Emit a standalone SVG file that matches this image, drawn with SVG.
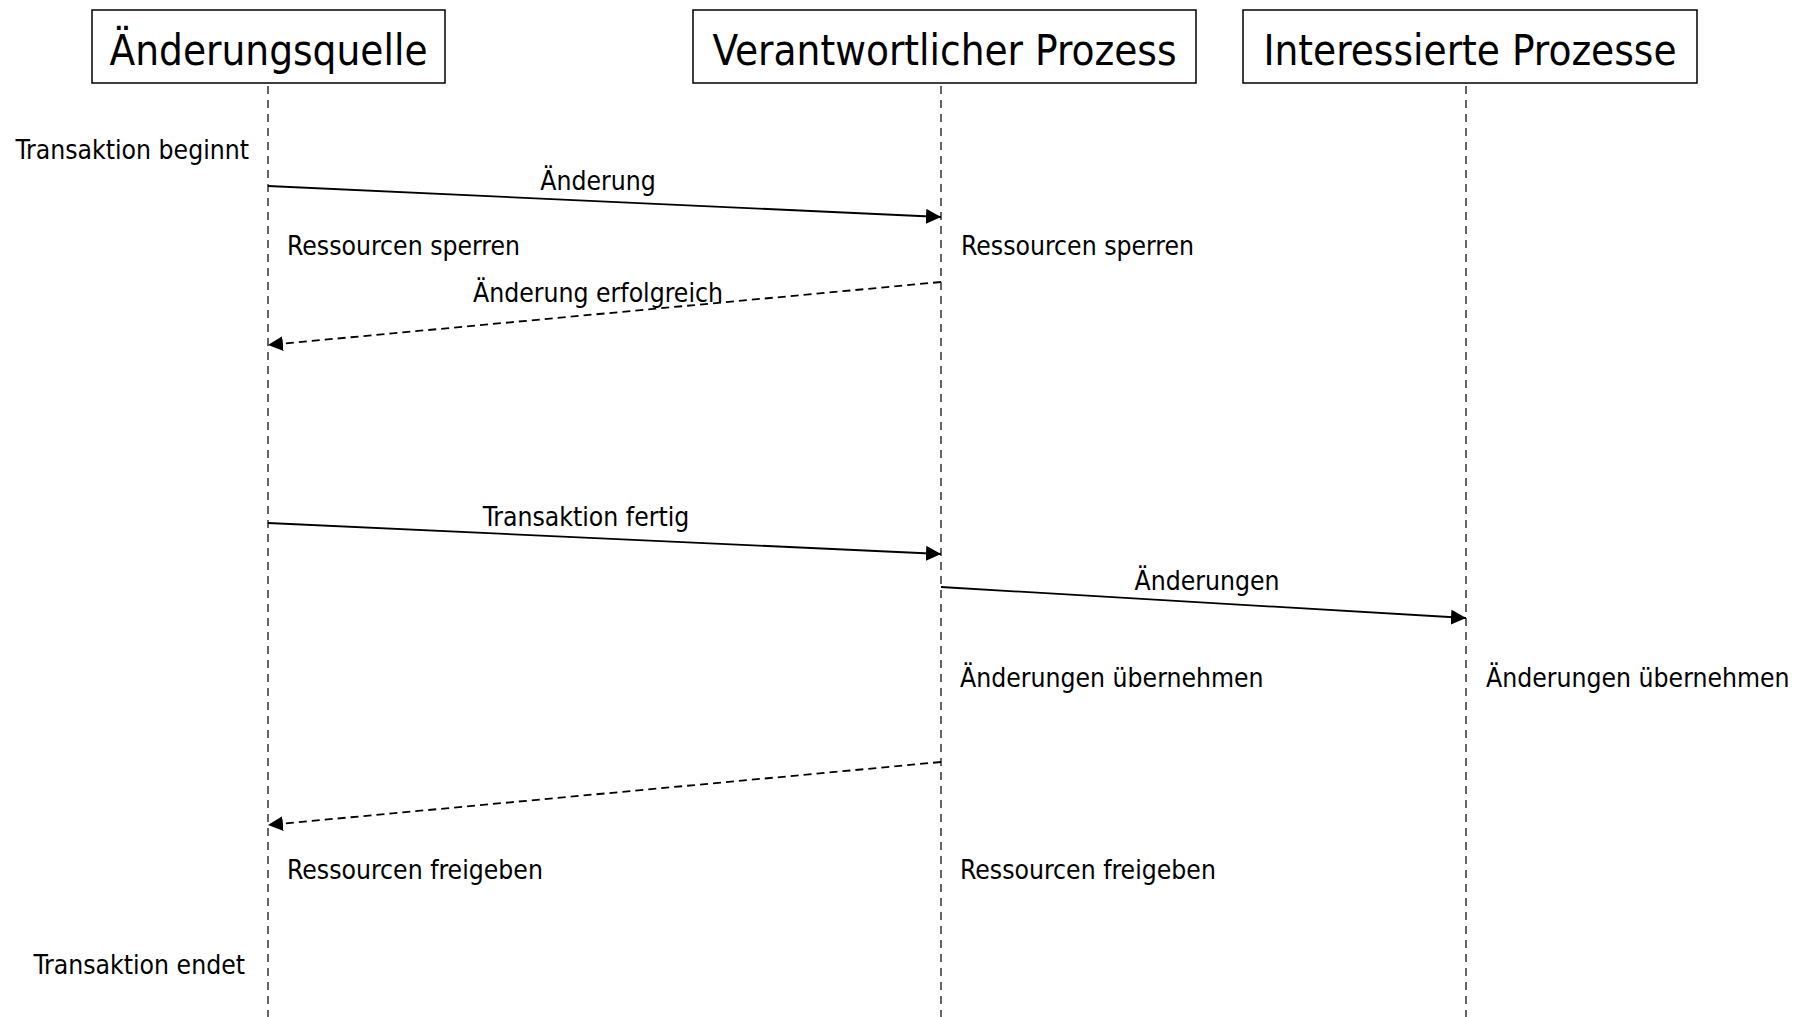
<svg xmlns="http://www.w3.org/2000/svg" width="1802" height="1017" viewBox="0 0 1802 1017">
  <style>
    text { font-family: "DejaVu Sans Condensed", "DejaVu Sans", sans-serif; fill: #000; }
    .title { font-size: 41.8px; text-anchor: middle; }
    .lbl { font-size: 26.3px; }
    .mid { text-anchor: middle; }
    .end { text-anchor: end; }
    .box { fill: #fff; stroke: #000; stroke-width: 1.5; }
    .life { stroke: #000; stroke-width: 1.2; stroke-dasharray: 8 6; fill: none; }
    .msg { stroke: #000; stroke-width: 1.8; fill: none; marker-end: url(#head); }
    .ret { stroke: #000; stroke-width: 1.8; fill: none; stroke-dasharray: 8 5; marker-end: url(#head); }
  </style>
  <defs>
    <marker id="head" viewBox="0 0 15 15" refX="15" refY="7.5" markerWidth="15" markerHeight="15" markerUnits="userSpaceOnUse" orient="auto">
      <path d="M0,0 L15,7.5 L0,15 Z" fill="#000"/>
    </marker>
  </defs>

  <!-- lifelines -->
  <g id="lifelines">
    <line class="life" x1="268" y1="86" x2="268" y2="1017"/>
    <line class="life" x1="941" y1="86" x2="941" y2="1017"/>
    <line class="life" x1="1466" y1="86" x2="1466" y2="1017"/>
  </g>

  <!-- participants -->
  <g id="aenderungsquelle">
    <rect class="box" x="92" y="10" width="353" height="73"/>
    <text class="title" x="268.5" y="65">Änderungsquelle</text>
  </g>
  <g id="verantwortlicher-prozess">
    <rect class="box" x="693" y="10" width="503" height="73"/>
    <text class="title" x="944.5" y="65">Verantwortlicher Prozess</text>
  </g>
  <g id="interessierte-prozesse">
    <rect class="box" x="1243" y="10" width="454" height="73"/>
    <text class="title" x="1470" y="65">Interessierte Prozesse</text>
  </g>

  <!-- messages -->
  <g id="connectors">
    <line class="msg" x1="268" y1="186" x2="941" y2="217"/>
    <line class="ret" x1="941" y1="282" x2="268" y2="345"/>
    <line class="msg" x1="268" y1="523" x2="941" y2="554"/>
    <line class="msg" x1="941" y1="587" x2="1466" y2="618"/>
    <line class="ret" x1="941" y1="762" x2="268" y2="825"/>
  </g>

  <!-- message labels and notes -->
  <g id="labels">
    <text class="lbl end" x="249" y="159">Transaktion beginnt</text>
    <text class="lbl mid" x="598" y="190">Änderung</text>
    <text class="lbl" x="287" y="255">Ressourcen sperren</text>
    <text class="lbl" x="961" y="255">Ressourcen sperren</text>
    <text class="lbl mid" x="598" y="302">Änderung erfolgreich</text>
    <text class="lbl mid" x="586" y="526">Transaktion fertig</text>
    <text class="lbl mid" x="1207" y="590">Änderungen</text>
    <text class="lbl" x="960" y="687">Änderungen übernehmen</text>
    <text class="lbl" x="1486" y="687">Änderungen übernehmen</text>
    <text class="lbl" x="287" y="879">Ressourcen freigeben</text>
    <text class="lbl" x="960" y="879">Ressourcen freigeben</text>
    <text class="lbl end" x="245" y="974">Transaktion endet</text>
  </g>
</svg>
